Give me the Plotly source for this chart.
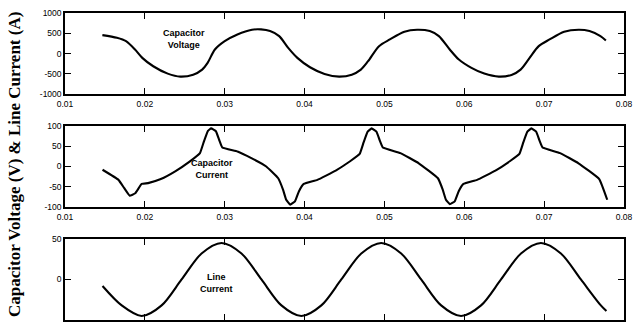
import plotly.graph_objects as go
from plotly.subplots import make_subplots

# Capacitor voltage (V)
t_vc = [0.01468, 0.0165, 0.01764, 0.01877, 0.01968, 0.02105, 0.02286, 0.02445, 0.02605, 0.02718,
        0.02786, 0.02877, 0.0300, 0.03159, 0.03341, 0.03455, 0.03568, 0.03682, 0.03795, 0.0391,
        0.04068, 0.0425, 0.04432, 0.04591, 0.04705, 0.04795, 0.04932, 0.05068, 0.0525, 0.05409,
        0.05568, 0.05682, 0.05818, 0.05932, 0.0609, 0.0625, 0.06432, 0.06591, 0.06705, 0.06818,
        0.06932, 0.07068, 0.0725, 0.07432, 0.07568, 0.07705, 0.07773]
v_c = [455, 388, 306, 99, -107, -314, -496, -570, -521, -397,
       -231, 99, 306, 471, 587, 595, 554, 430, 140, -107,
       -339, -504, -570, -521, -397, -190, 182, 347, 537, 587,
       554, 430, 99, -149, -355, -496, -570, -529, -397, -107,
       182, 347, 537, 587, 554, 430, 322]

# Capacitor current (A)
t_ic = [0.0147, 0.0167, 0.0174, 0.0181, 0.0188, 0.0196, 0.0204, 0.0220, 0.0238, 0.0256,
        0.0269, 0.0274, 0.0279, 0.0283, 0.0289, 0.0293, 0.0297, 0.0316, 0.0334, 0.0352,
        0.0367, 0.0373, 0.0377, 0.0382, 0.0388, 0.0393, 0.0399, 0.0416, 0.0439, 0.0457,
        0.0469, 0.0474, 0.0479, 0.0484, 0.0490, 0.0494, 0.0498, 0.0520, 0.0543, 0.0567,
        0.0573, 0.0577, 0.0582, 0.0588, 0.0593, 0.0599, 0.0616, 0.0639, 0.0657, 0.0669,
        0.0674, 0.0679, 0.0684, 0.0690, 0.0694, 0.0698, 0.0720, 0.0743, 0.0769, 0.0779]
i_c = [-8, -33, -53, -72, -66, -43, -41, -31, -12, 12,
       33, 62, 88, 94, 87, 66, 47, 37, 20, 0,
       -29, -57, -82, -94, -86, -61, -43, -33, -10, 13,
       31, 60, 86, 94, 86, 65, 47, 33, 8, -29,
       -57, -82, -93, -86, -61, -43, -33, -10, 13, 31,
       60, 86, 94, 86, 65, 47, 33, 8, -31, -82]

# Line current (A)
t_il = [0.0147, 0.0171, 0.0196, 0.0221, 0.0246, 0.0271, 0.0296, 0.0321, 0.0346, 0.0371,
        0.0396, 0.0421, 0.0446, 0.0471, 0.0496, 0.0521, 0.0546, 0.0571, 0.0596, 0.0621,
        0.0646, 0.0671, 0.0696, 0.0721, 0.0746, 0.0771, 0.0778]
i_l = [-8, -32, -45, -32, 0, 32, 45, 32, 0, -32,
       -45, -32, 0, 32, 45, 32, 0, -32, -45, -32,
       0, 32, 45, 32, 0, -32, -39]

x_ticks = [0.01, 0.02, 0.03, 0.04, 0.05, 0.06, 0.07, 0.08]
x_ticktext = ["0.01", "0.02", "0.03", "0.04", "0.05", "0.06", "0.07", "0.08"]
y1_ticks = [-1000, -500, 0, 500, 1000]
y2_ticks = [-100, -50, 0, 50, 100]
y3_ticks = [-50, 0, 50]

def lab(v):
    return [str(a) for a in v]

fig = make_subplots(rows=3, cols=1)
line = dict(color="black", width=2.1)
fig.add_trace(go.Scatter(x=t_vc, y=v_c, mode="lines", line=dict(line, shape="spline", smoothing=0.8)), row=1, col=1)
fig.add_trace(go.Scatter(x=t_ic, y=i_c, mode="lines", line=dict(line, shape="spline", smoothing=0.3)), row=2, col=1)
fig.add_trace(go.Scatter(x=t_il, y=i_l, mode="lines", line=dict(line, shape="spline", smoothing=0.85)), row=3, col=1)

tickfont = dict(family="Liberation Sans, Arial", size=8.5, color="black")
common = dict(showline=True, mirror="ticks", linecolor="black", linewidth=1.5,
              ticks="inside", ticklen=6, tickwidth=1.2, tickcolor="black",
              showgrid=False, zeroline=False, tickfont=tickfont, automargin=False)

domains = [[0.736, 1.0], [0.368, 0.632], [0.0, 0.264]]
yt = [(y1_ticks, [-1000, 1000]), (y2_ticks, [-100, 100]), (y3_ticks, [-50, 50])]
for k in range(3):
    xa = "xaxis" if k == 0 else f"xaxis{k+1}"
    ya = "yaxis" if k == 0 else f"yaxis{k+1}"
    fig.update_layout(**{
        xa: dict(common, range=[0.01, 0.08], tickvals=x_ticks, ticktext=x_ticktext,
                 showticklabels=(k < 2), ticklabelstandoff=1),
        ya: dict(common, range=yt[k][1], domain=domains[k], tickvals=yt[k][0],
                 ticktext=lab(yt[k][0])),
    })

ann_font = dict(family="Liberation Sans, Arial", size=9, color="black")
fig.add_annotation(x=0.02488, y=358, xref="x", yref="y", text="<b>Capacitor<br>Voltage</b>",
                   showarrow=False, font=ann_font)
fig.add_annotation(x=0.02838, y=-6, xref="x2", yref="y2", text="<b>Capacitor<br>Current</b>",
                   showarrow=False, font=ann_font)
fig.add_annotation(x=0.0290, y=-4, xref="x3", yref="y3", text="<b>Line<br>Current</b>",
                   showarrow=False, font=ann_font)
fig.add_annotation(x=-0.0894, y=0.505, xref="paper", yref="paper",
                   text="<b>Capacitor Voltage (V) & Line Current (A)</b>", textangle=-90,
                   showarrow=False, xanchor="center", yanchor="middle",
                   font=dict(family="Liberation Serif, Times New Roman", size=17, color="black"))

fig.update_layout(width=633, height=323, template="none", showlegend=False,
                  paper_bgcolor="white", plot_bgcolor="white",
                  margin=dict(l=65, r=9, t=13, b=3))
fig.write_html("out.html", config={"displayModeBar": False},
               post_script="document.body.style.margin='0';document.body.style.overflow='hidden';")
